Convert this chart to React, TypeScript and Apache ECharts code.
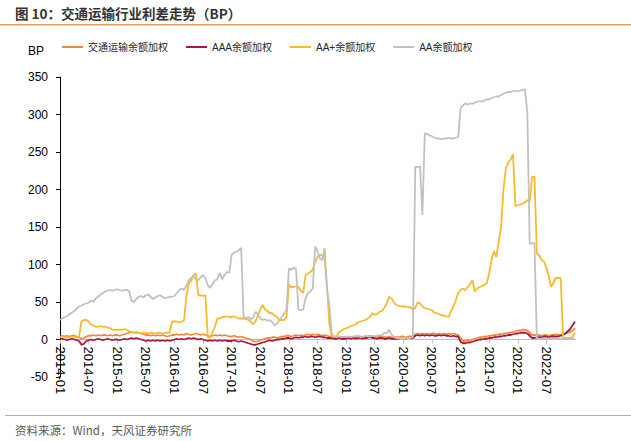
import React, { useEffect, useRef } from 'react';
import * as echarts from 'echarts';

// Semi-monthly categories: 2014-01-01 ... 2022-12-16, 2023-01-01
const dates: string[] = [];
for (let y = 2014; y <= 2022; y++) {
  for (let m = 1; m <= 12; m++) {
    const mm = m < 10 ? '0' + m : '' + m;
    dates.push(`${y}-${mm}-01`);
    dates.push(`${y}-${mm}-16`);
  }
}
dates.push('2023-01-01');

const seriesNames = ['交通运输余额加权', 'AAA余额加权', 'AA+余额加权', 'AA余额加权'];
const seriesColors = ['#F08A3A', '#A8183C', '#F9BA2A', '#C0C0C0'];

const transport: number[] = [
  4, 5, 4, 5, 4, 5, 5, 4, 3, 1, 2, 4, 5, 5, 6, 5, 6, 5, 6, 6, 5, 6, 5, 6,
  6, 5, 6, 7, 8, 9, 10, 9, 10, 9, 8, 7, 6, 6, 5, 6, 5, 6, 5, 6, 5, 4, 5, 6,
  6, 7, 6, 7, 6, 8, 7, 6, 7, 8, 7, 6, 7, 6, 5, 4, 5, 6, 5, 6, 5, 6, 5, 4,
  4, 5, 4, 3, 4, 3, 2, 1, 0, -2, -3, -2, -1, 0, 1, 2, 2, 3, 3, 2, 3, 4, 4, 5,
  5, 4, 5, 6, 5, 6, 5, 6, 7, 6, 7, 6, 7, 6, 5, 6, 5, 4, 4, 3, 3, 4, 3, 3,
  3, 4, 3, 4, 3, 4, 4, 3, 4, 4, 5, 4, 4, 3, 4, 4, 3, 3, 4, 3, 3, 3, 3, 4,
  4, 3, 4, 4, 4, 7, 8, 7, 8, 7, 8, 7, 8, 8, 7, 8, 7, 8, 7, 8, 7, 8, 7, 6,
  2, -2, -2, -1, -1, 0, 1, 2, 3, 3, 4, 4, 5, 5, 6, 6, 7, 7, 8, 8, 9, 9, 10, 11,
  12, 12, 13, 13, 12, 9, 6, 6, 6, 6, 5, 6, 6, 5, 6, 6, 7, 6, 6, 7, 8, 9, 10, 12,
  15,
];

const aaa: number[] = [
  0, 1, 0, -1, 0, 1, 0, -1, -2, -7, -6, -2, -1, 0, -1, 0, 1, 0, -1, 0, 1, 0, -1, 0,
  0, -1, 0, 1, 0, 1, 2, 1, 2, 1, 0, -1, -2, -1, -2, -1, -2, -1, -2, -1, -2, -1, -2, -1,
  0, 1, 0, 1, 0, 1, 2, 1, 2, 1, 0, 1, 0, -1, -2, -1, -2, -1, -2, -1, -2, -1, -2, -2,
  -2, -1, -2, -3, -2, -3, -4, -5, -6, -7, -7, -6, -5, -4, -3, -2, -1, -2, -1, 0, 0, 1, 1, 2,
  2, 1, 2, 3, 2, 3, 3, 4, 3, 4, 4, 3, 4, 4, 3, 3, 2, 2, 2, 1, 1, 2, 1, 1,
  1, 2, 1, 2, 1, 2, 2, 1, 2, 2, 3, 2, 2, 1, 2, 2, 1, 1, 2, 1, 1, 1, 1, 2,
  2, 1, 2, 2, 2, 5, 6, 5, 6, 5, 6, 5, 6, 5, 5, 6, 5, 6, 5, 5, 4, 5, 4, 4,
  -3, -5, -5, -4, -4, -3, -2, -1, 0, 0, 1, 1, 2, 2, 3, 3, 4, 4, 5, 5, 6, 6, 7, 8,
  8, 9, 9, 9, 8, 5, 2, 2, 3, 3, 3, 4, 4, 3, 4, 4, 4, 4, 5, 6, 8, 11, 14, 19,
  24,
];

const aaPlus: number[] = [
  3, 4, 3, 2, 3, 4, 3, 3, 4, 24, 26, 26, 24, 20, 19, 17, 17, 18, 17, 17, 16, 15, 13, 13,
  13, 13, 13, 14, 13, 11, 10, 9, 9, 9, 8, 9, 9, 8, 9, 9, 8, 9, 9, 8, 9, 9, 9, 24,
  24, 24, 23, 24, 25, 57, 75, 78, 86, 88, 59, 59, 58, 59, 3, 3, 10, 17, 28, 28, 30, 30, 31, 30,
  30, 31, 29, 28, 28, 28, 27, 26, 24, 20, 24, 32, 40, 46, 40, 38, 35, 35, 32, 30, 26, 26, 26, 30,
  73, 70, 70, 71, 70, 65, 62, 86, 88, 90, 93, 104, 110, 113, 112, 108, 70, 20, 4, 4, 4, 10, 12, 14,
  15, 16, 18, 19, 20, 23, 24, 25, 26, 28, 30, 35, 33, 34, 37, 38, 42, 48, 57, 55, 50, 46, 45, 44,
  44, 44, 43, 43, 40, 42, 50, 48, 44, 42, 41, 40, 39, 36, 35, 34, 32, 32, 31, 30, 38, 44, 52, 62,
  66, 68, 66, 70, 74, 79, 64, 68, 70, 71, 73, 75, 88, 106, 118, 110, 130, 150, 200, 228, 236, 240, 247, 178,
  179, 180, 181, 183, 186, 184, 217, 217, 115, 112, 106, 104, 96, 84, 70, 76, 82, 82, 82, 3, 2, 2, 2, 4,
  9,
];

const aa: number[] = [
  26, 28, 30, 31, 34, 36, 38, 41, 44, 45, 47, 48, 49, 52, 50, 55, 57, 60, 62, 64, 65, 66, 65, 66,
  67, 66, 65, 66, 66, 64, 52, 50, 54, 57, 58, 56, 59, 60, 57, 54, 56, 58, 59, 57, 55, 56, 57, 57,
  58, 62, 66, 68, 66, 72, 79, 82, 84, 80, 79, 83, 86, 82, 72, 69, 74, 79, 80, 89, 80, 86, 90, 89,
  113, 116, 117, 119, 122, 30, 28, 30, 27, 29, 37, 33, 28, 26, 27, 25, 26, 23, 19, 21, 26, 30, 35, 39,
  95, 93, 96, 94, 40, 39, 40, 55, 62, 64, 68, 124, 118, 108, 106, 122, 66, 44, 8, 4, 3, 4, 3, 4,
  3, 4, 3, 4, 5, 4, 3, 4, 5, 4, 4, 5, 4, 5, 6, 5, 9, 8, 13, 7, 3, 2, 2, 2,
  2, 2, 2, 2, 3, 230, 230, 231, 166, 275, 274, 272, 271, 269, 268, 268, 267, 268, 268, 269, 268, 268, 269, 270,
  308, 312, 315, 313, 315, 314, 316, 317, 318, 317, 319, 320, 320, 322, 323, 324, 324, 326, 328, 329, 330, 330, 331, 332,
  331, 332, 333, 333, 304, 128, 128, 129, 1, 1, 1, 1, 1, 1, 1, 1, 1, 1, 1, 1, 1, 1, 1, 1,
  1,
];

const yTicks = { min: -50, max: 350, interval: 50 };

const FONT = '"Liberation Sans", Arial, "Noto Sans CJK SC", sans-serif';
const CJK = '"Noto Sans CJK SC", "Liberation Sans", sans-serif';

const showHalfYear = (idx: number, val: string) =>
  idx < dates.length - 1 && (val.endsWith('-01-01') || val.endsWith('-07-01'));

export default function App() {
  const ref = useRef<HTMLDivElement>(null);
  useEffect(() => {
    if (!ref.current) return;
    const chart = echarts.init(ref.current, null, { renderer: 'svg' });
    const values = [transport, aaa, aaPlus, aa];
    // grid 0: the plot (-50..350); grid 1: same width, bottom edge on the zero line, carries the date labels
    const plotTop = 77;
    const plotBottom = 64;
    const plotHeight = 441 - plotTop - plotBottom;
    const zeroFromBottom =
      plotBottom + (plotHeight * (0 - yTicks.min)) / (yTicks.max - yTicks.min);
    chart.setOption({
      animation: false,
      backgroundColor: '#ffffff',
      textStyle: { fontFamily: FONT },
      grid: [
        { left: 60, right: 56, top: plotTop, bottom: plotBottom },
        { left: 60, right: 56, top: plotTop, bottom: zeroFromBottom },
      ],
      legend: {
        data: seriesNames,
        left: 57,
        top: 37,
        icon: 'rect',
        itemWidth: 21,
        itemHeight: 2,
        itemGap: 18,
        textStyle: { fontSize: 10, color: '#262626', fontFamily: FONT },
      },
      xAxis: [
        {
          type: 'category',
          gridIndex: 0,
          data: dates,
          boundaryGap: false,
          axisLine: { show: true, onZero: true, lineStyle: { color: '#BFBFBF', width: 1 } },
          axisTick: { show: false },
          axisLabel: { show: false },
          splitLine: { show: false },
        },
        {
          type: 'category',
          gridIndex: 1,
          data: dates,
          boundaryGap: false,
          axisLine: { show: true, onZero: false, lineStyle: { color: '#BFBFBF', width: 1 } },
          axisTick: { show: true, interval: showHalfYear, length: 4, lineStyle: { color: '#BFBFBF' } },
          axisLabel: {
            interval: showHalfYear,
            rotate: -90,
            formatter: (v: string) => v.slice(0, 7),
            fontSize: 13,
            color: '#000',
            margin: 7,
            fontFamily: FONT,
          },
          splitLine: { show: false },
        },
      ],
      yAxis: [
        {
          type: 'value',
          gridIndex: 0,
          min: yTicks.min,
          max: yTicks.max,
          interval: yTicks.interval,
          splitLine: { show: false },
          axisLine: { show: true, lineStyle: { color: '#000', width: 1 } },
          axisTick: { show: true, length: 4, lineStyle: { color: '#000' } },
          axisLabel: { fontSize: 12, color: '#000', margin: 12, fontFamily: FONT },
        },
        {
          type: 'value',
          gridIndex: 1,
          min: 0,
          max: 1,
          show: false,
        },
      ],
      series: seriesNames.map((name, i) => ({
        name,
        type: 'line',
        xAxisIndex: 0,
        yAxisIndex: 0,
        data: values[i],
        symbol: 'none',
        showSymbol: false,
        color: seriesColors[i],
        lineStyle: { color: seriesColors[i], width: 1.8 },
      })),
      graphic: [
        {
          type: 'text',
          x: 15,
          y: 13,
          style: {
            text: '图 10：交通运输行业利差走势（BP）',
            fontSize: 13.5,
            fontWeight: 'bold',
            fill: '#333333',
            fontFamily: CJK,
            verticalAlign: 'middle',
          },
        },
        {
          type: 'rect',
          shape: { x: 0, y: 24, width: 631, height: 1.5 },
          style: { fill: '#E6A060' },
        },
        {
          type: 'text',
          x: 28,
          y: 51,
          style: {
            text: 'BP',
            fontSize: 12,
            fill: '#000',
            fontFamily: FONT,
            verticalAlign: 'middle',
          },
        },
        {
          type: 'rect',
          shape: { x: 5, y: 415, width: 626, height: 1 },
          style: { fill: '#E6A060' },
        },
        {
          type: 'text',
          x: 15,
          y: 430,
          style: {
            text: '资料来源：Wind，天风证券研究所',
            fontSize: 11.5,
            fill: '#595959',
            fontFamily: CJK,
            verticalAlign: 'middle',
          },
        },
      ],
    });
    return () => chart.dispose();
  }, []);
  return (
    <div
      ref={ref}
      style={{ position: 'fixed', left: 0, top: 0, width: 631, height: 441 }}
    />
  );
}
